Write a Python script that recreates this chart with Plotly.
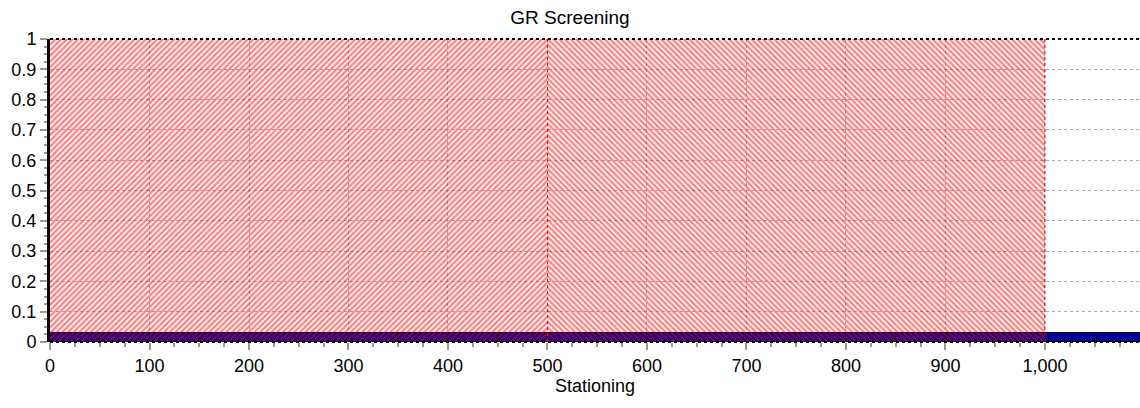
import plotly.graph_objects as go

# ---- data ----
region_start = [0, 500]
region_end = [500, 1000]
region_value = [1, 1]
region_pattern = ["/", "\\"]

band_start = [0, 50, 100, 150, 200, 250, 300, 350, 400, 450, 500, 550, 600, 650, 700,
              750, 800, 850, 900, 950, 1000, 1050]
band_end = [s + 50 for s in band_start]
band_value = [0.03] * len(band_start)

x_ticks = [0, 100, 200, 300, 400, 500, 600, 700, 800, 900, 1000]
y_ticks = [0, 0.1, 0.2, 0.3, 0.4, 0.5, 0.6, 0.7, 0.8, 0.9, 1]

fig = go.Figure()

# blue band
fig.add_trace(go.Bar(
    x=[(a + b) / 2 for a, b in zip(band_start, band_end)],
    y=band_value,
    width=[b - a for a, b in zip(band_start, band_end)],
    marker=dict(color="#00009C", line=dict(color="#000000", width=1)),
    showlegend=False, hoverinfo="skip",
))

# red hatched regions
for s, e, v, p in zip(region_start, region_end, region_value, region_pattern):
    fig.add_trace(go.Bar(
        x=[(s + e) / 2], y=[v], width=[e - s],
        marker=dict(color="rgba(0,0,0,0)", line=dict(width=0),
                    pattern=dict(shape=p, fgcolor="#FF0000", bgcolor="rgba(0,0,0,0)",
                                 size=4, solidity=0.55, fillmode="overlay")),
        showlegend=False, hoverinfo="skip",
    ))

# red dashed region boundaries
for e in region_end:
    fig.add_trace(go.Scatter(
        x=[e, e], y=[0, 1], mode="lines",
        line=dict(color="#FF0000", width=1, dash="dot"),
        showlegend=False, hoverinfo="skip",
    ))

fig.update_layout(
    width=1140, height=408,
    margin=dict(l=50, r=0, t=39, b=66, autoexpand=False),
    paper_bgcolor="white", plot_bgcolor="white",
    barmode="overlay", bargap=0,
    separators=".,",
    font=dict(family="Liberation Sans, Arial", size=18, color="#000000"),
    title=dict(text="GR Screening", x=0.5, xanchor="center", y=0.958, yanchor="middle",
               font=dict(size=19)),
    xaxis=dict(
        range=[0, 1095.5], tickvals=x_ticks, tickformat=",",
        showgrid=True, gridcolor="#AAAAAA", griddash="dot", gridwidth=1,
        ticks="outside", ticklen=7, tickcolor="#999999", tickwidth=2,
        minor=dict(dtick=25, ticks="outside", ticklen=4, tickcolor="#999999", showgrid=False),
        showline=False, zeroline=False, automargin=False,
        title=dict(text="Stationing", standoff=2, font=dict(size=18)),
        tickfont=dict(size=18),
    ),
    yaxis=dict(
        range=[0, 1], tickvals=y_ticks,
        showgrid=True, gridcolor="#AAAAAA", griddash="dot", gridwidth=1,
        ticks="outside", ticklen=7, tickcolor="#999999", tickwidth=2,
        minor=dict(dtick=0.025, ticks="outside", ticklen=3, tickcolor="#999999", showgrid=False),
        showline=True, linecolor="#000000", linewidth=3,
        zeroline=False, automargin=False, tickfont=dict(size=18),
    ),
    shapes=[
        dict(type="line", xref="paper", yref="paper", x0=0, x1=1, y0=1, y1=1,
             line=dict(color="#000000", width=2, dash="dot")),
        dict(type="line", xref="paper", yref="paper", x0=0, x1=1, y0=0, y1=0,
             line=dict(color="#000000", width=2, dash="dot")),
    ],
)

fig.write_html(
    "out.html",
    config={"displayModeBar": False},
    post_script="document.body.style.margin='0';document.body.style.overflow='hidden';",
)
